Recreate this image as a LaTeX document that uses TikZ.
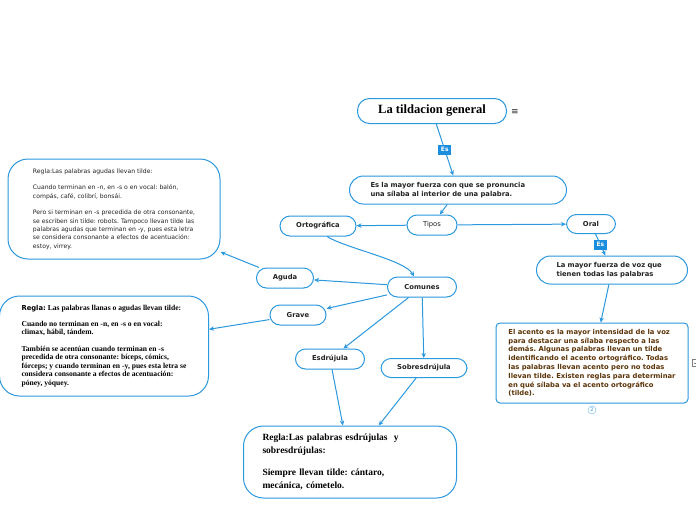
\documentclass[tikz,border=0pt]{standalone}
\usepackage{fontspec}
\setmainfont{Liberation Serif}
\newfontfamily\verd{DejaVu Sans}
\usetikzlibrary{arrows.meta}
\definecolor{mapblue}{RGB}{44,152,222}
\definecolor{esblue}{RGB}{28,142,222}
\definecolor{notebrown}{RGB}{92,52,8}
\definecolor{labelgray}{RGB}{35,35,35}
\frenchspacing

\begin{document}
\begin{tikzpicture}[x=1pt,y=-1pt,
  topic/.style={draw=mapblue, line width=1pt, rounded corners=10pt, fill=white, inner sep=0pt,
    minimum height=20pt, text=labelgray, font=\verd\bfseries\fontsize{6.8}{8.6}\selectfont},
  conn/.style={draw=mapblue, line width=1pt, -{Stealth[length=5pt,width=4.5pt]}},
  eslabel/.style={fill=esblue, text=white, inner xsep=2.8pt, inner ysep=2.6pt,
    font=\verd\bfseries\fontsize{6}{6}\selectfont}]
\useasboundingbox[fill=white] (0,0) rectangle (696,520);

% main topic
\node[topic, minimum width=149pt, minimum height=25pt, rounded corners=12pt, text=black,
  font=\bfseries\fontsize{12.6}{14}\selectfont] (title) at (432,111) {La tildacion general};
\node[font=\verd\fontsize{9}{10}\selectfont, text=labelgray] (menu) at (515,112) {≡};

\node[topic, text width=175pt, inner xsep=21pt, align=left, minimum height=28pt, rounded corners=14pt] (defin) at (458,190)
  {Es la mayor fuerza con que se pronuncia\\una sílaba al interior de una palabra.};
\node[topic, minimum width=50pt, font=\verd\fontsize{6.8}{8}\selectfont] (tipos) at (432,225) {Tipos};
\node[topic, minimum width=76pt] (orto) at (318,226) {Ortográfica};
\node[topic, minimum width=49pt, minimum height=19pt] (oral) at (591,224) {Oral};

% oral branch
\node[topic, text width=111pt, inner xsep=20pt, align=left, minimum height=28pt, rounded corners=14pt] (mayor) at (612,270)
  {La mayor fuerza de voz que\\tienen todas las palabras};
\node[topic, minimum width=192pt, minimum height=80pt, rounded corners=4pt, align=left, text=notebrown,
  font=\verd\bfseries\fontsize{6.8}{8.8}\selectfont] (acento) at (592,363)
  {El acento es la mayor intensidad de la voz\\
   para destacar una sílaba respecto a las\\
   demás. Algunas palabras llevan un tilde\\
   identificando el acento ortográfico. Todas\\
   las palabras llevan acento pero no todas\\
   llevan tilde. Existen reglas para determinar\\
   en qué sílaba va el acento ortográfico\\
   (tilde).};
\node[circle, draw=mapblue!60, line width=0.5pt, inner sep=0pt, minimum size=8pt, text=mapblue,
  font=\verd\fontsize{5}{5}\selectfont] (count) at (592,410) {2};
\draw[gray, line width=0.6pt] (696,359.5) -- (692.5,359.5) -- (692.5,366.5) -- (696,366.5);
\draw[gray, line width=0.6pt] (694,363) -- (696,363);

% ortografica branch
\node[topic, minimum width=69pt] (comunes) at (422,287) {Comunes};
\node[topic, minimum width=57pt] (aguda) at (285,278) {Aguda};
\node[topic, minimum width=56pt] (grave) at (298,315) {Grave};
\node[topic, minimum width=69pt] (esdru) at (330,359) {Esdrújula};
\node[topic, minimum width=86pt, minimum height=19pt] (sobre) at (424,368) {Sobresdrújula};

% rules
\node[topic, minimum width=212pt, minimum height=100pt, rounded corners=20pt, align=left,
  font=\verd\fontsize{6.1}{8.3}\selectfont] (agudabox) at (114,209)
  {Regla:Las palabras agudas llevan tilde:\\[8.3pt]
   Cuando terminan en -n, en -s o en vocal: balón,\\
   compás, café, colibrí, bonsái.\\[8.3pt]
   Pero si terminan en -s precedida de otra consonante,\\
   se escriben sin tilde: robots. Tampoco llevan tilde las\\
   palabras agudas que terminan en -y, pues esta letra\\
   se considera consonante a efectos de acentuación:\\
   estoy, virrey.};
\node[topic, minimum width=209pt, minimum height=100pt, rounded corners=20pt, align=left, text=black,
  font=\bfseries\fontsize{7.6}{8.5}\selectfont] (gravebox) at (104,346)
  {{\verd\fontsize{6.8}{8.5}\selectfont Regla:} Las palabras llanas o agudas llevan tilde:\\[7.5pt]
   Cuando no terminan en -n, en -s o en vocal:\\
   climax, hábil, tándem.\\[8pt]
   También se acentúan cuando terminan en -s\\
   precedida de otra consonante: bíceps, cómics,\\
   fórceps; y cuando terminan en -y, pues esta letra se\\
   considera consonante a efectos de acentuación:\\
   póney, yóquey.};
\node[topic, text width=175pt, inner xsep=19pt, minimum height=72pt, rounded corners=20pt, align=left, text=black,
  font=\bfseries\fontsize{9.5}{12.5}\selectfont] (esdrubox) at (350,462)
  {Regla:Las palabras esdrújulas\ \ y\\
   sobresdrújulas:\\[10pt]
   Siempre llevan tilde: cántaro,\\
   mecánica, cómetelo.};

% connectors
\draw[conn] (title) -- node[eslabel]{Es} (defin);
\draw[conn] (defin) -- (tipos);
\draw[conn] (tipos) -- (orto);
\draw[conn] (tipos) -- (oral);
\draw[conn] (oral) -- node[eslabel]{Es} (mayor);
\draw[conn] (mayor) -- (acento);
\draw[conn] ([xshift=9pt]orto.south) .. controls (345,248) and (405,260) .. ([xshift=-8pt]comunes.north);
\draw[conn] (comunes) -- (aguda);
\draw[conn] (comunes) -- (grave);
\draw[conn] (comunes) -- (esdru);
\draw[conn] (comunes) -- (sobre);
\draw[conn] (aguda) -- (agudabox);
\draw[conn] (grave) -- (gravebox);
\draw[conn] (esdru) -- (esdrubox);
\draw[conn] (sobre) -- (esdrubox);

\end{tikzpicture}
\end{document}
